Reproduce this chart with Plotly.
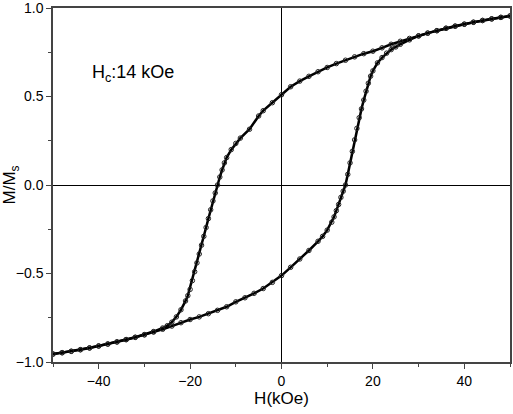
import plotly.graph_objects as go

# descending branch (field sweep +50 -> -50 kOe)
h_down = [50, 48, 46, 44, 42, 40, 38, 36, 34, 32, 30, 28, 26, 24, 22, 20, 18, 16, 14, 12,
          10, 8, 6, 4, 2, 0, -2, -4, -5, -7, -9, -10, -11, -12, -12.5, -13, -13.5, -14,
          -14.5, -15, -15.5, -16, -16.5, -17, -17.5, -18, -18.5, -19, -19.5, -20, -20.5,
          -21, -22, -23, -24, -25, -26, -28, -30, -32, -34, -36, -38, -40, -42, -44, -46,
          -48, -50]
m_down = [0.955, 0.947, 0.938, 0.929, 0.919, 0.908, 0.897, 0.885, 0.872, 0.858, 0.843,
          0.828, 0.812, 0.795, 0.775, 0.756, 0.742, 0.724, 0.705, 0.686, 0.664, 0.640,
          0.614, 0.587, 0.555, 0.510, 0.465, 0.420, 0.390, 0.315, 0.265, 0.235, 0.200,
          0.155, 0.125, 0.085, 0.045, 0.0, -0.045, -0.09, -0.14, -0.19, -0.24, -0.29,
          -0.34, -0.39, -0.44, -0.49, -0.54, -0.59, -0.625, -0.655, -0.705, -0.745,
          -0.775, -0.795, -0.808, -0.828, -0.845, -0.860, -0.873, -0.886, -0.898, -0.909,
          -0.920, -0.930, -0.939, -0.947, -0.955]

# ascending branch (field sweep -50 -> +50 kOe)
h_up = [-50, -48, -46, -44, -42, -40, -38, -36, -34, -32, -30, -28, -26, -24, -22, -20,
        -18, -16, -14, -12, -10, -8, -6, -4, -2, 0, 2, 4, 6, 8, 9, 10, 11, 11.5, 12, 12.5,
        13, 13.5, 14, 14.5, 15, 15.5, 16, 16.5, 17, 17.5, 18, 18.5, 19, 19.5, 20, 21, 22,
        23, 24, 25, 26, 28, 30, 32, 34, 36, 38, 40, 42, 44, 46, 48, 50]
m_up = [-0.955, -0.948, -0.940, -0.931, -0.921, -0.910, -0.899, -0.887, -0.874, -0.861,
        -0.847, -0.831, -0.815, -0.797, -0.778, -0.760, -0.745, -0.727, -0.708, -0.688,
        -0.660, -0.637, -0.612, -0.585, -0.550, -0.512, -0.465, -0.418, -0.370, -0.318,
        -0.290, -0.255, -0.210, -0.180, -0.145, -0.110, -0.070, -0.035, 0.0, 0.06, 0.125,
        0.19, 0.255, 0.32, 0.38, 0.43, 0.48, 0.53, 0.575, 0.615, 0.645, 0.69, 0.72, 0.745,
        0.765, 0.78, 0.795, 0.82, 0.842, 0.858, 0.872, 0.886, 0.898, 0.909, 0.920, 0.930,
        0.939, 0.947, 0.955]

x_ticks = [-40, -20, 0, 20, 40]
y_ticks = [-1.0, -0.5, 0.0, 0.5, 1.0]

FONT = "Liberation Sans, Arial, sans-serif"

fig = go.Figure()
for h, m in [(h_down, m_down), (h_up, m_up)]:
    fig.add_trace(
        go.Scatter(
            x=h,
            y=m,
            mode="lines+markers",
            line=dict(color="black", width=2.5),
            marker=dict(symbol="circle-open", size=4.5, color="#222", line=dict(width=1)),
            showlegend=False,
            hoverinfo="skip",
        )
    )

fig.add_annotation(
    x=0.175, y=0.816, xref="paper", yref="paper",
    xanchor="center", yanchor="middle",
    text="H<sub>c</sub>:14 kOe", showarrow=False,
    font=dict(family=FONT, size=18, color="black"),
)

axis_common = dict(
    showgrid=False,
    showline=True,
    linecolor="#444",
    linewidth=1.5,
    mirror=True,
    ticks="outside",
    ticklen=5,
    tickwidth=1,
    tickcolor="#444",
    zeroline=True,
    zerolinecolor="black",
    zerolinewidth=1,
    automargin=False,
    ticklabeloverflow="allow",
    tickfont=dict(family=FONT, size=14, color="black"),
)

fig.update_xaxes(
    range=[-50, 50],
    tickvals=x_ticks,
    minor=dict(dtick=10, ticks="outside", ticklen=3, tickcolor="#444"),
    title=dict(text="H(kOe)", font=dict(family=FONT, size=17, color="black"), standoff=4),
    **axis_common,
)
fig.update_yaxes(
    range=[-1, 1],
    tickvals=y_ticks,
    tickformat=".1f",
    minor=dict(dtick=0.25, ticks="outside", ticklen=3, tickcolor="#444"),
    title=dict(text="M/M<sub>s</sub>", font=dict(family=FONT, size=17, color="black"), standoff=6),
    **axis_common,
)

fig.update_layout(
    width=513,
    height=414,
    margin=dict(l=53, r=3, t=8, b=52),
    plot_bgcolor="white",
    paper_bgcolor="white",
)

# page body has a default 8px margin; drop it so the figure fills the window
fig.write_html(
    "out.html",
    config={"displayModeBar": False},
    post_script="document.body.style.margin='0px';",
)
